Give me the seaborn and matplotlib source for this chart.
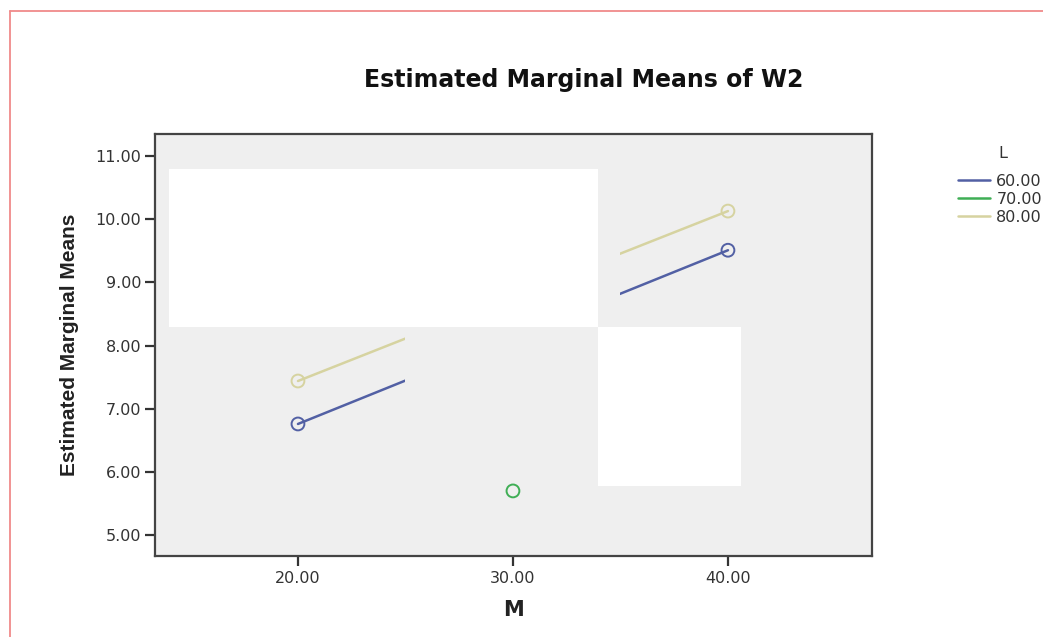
import numpy as np
import pandas as pd
import matplotlib
matplotlib.use("Agg")
import matplotlib.pyplot as plt
import seaborn as sns
from matplotlib.path import Path
from matplotlib.patches import Rectangle
from matplotlib.lines import Line2D

# ---- data (estimated marginal means of W2) ----
levels_L = ["60.00", "70.00", "80.00"]
m_60 = [20.0, 40.0]
w2_60 = [6.76, 9.51]
m_70 = [30.0]
w2_70 = [5.70]
m_80 = [20.0, 40.0]
w2_80 = [7.44, 10.13]

x_ticks = [20, 30, 40]
x_ticklabels = ["20.00", "30.00", "40.00"]
y_ticks = [5, 6, 7, 8, 9, 10, 11]
y_ticklabels = ["5.00", "6.00", "7.00", "8.00", "9.00", "10.00", "11.00"]

title = "Estimated Marginal Means of W2"
x_label = "M"
y_label = "Estimated Marginal Means"
legend_title = "L"

df = pd.DataFrame({
    "M": m_60 + m_70 + m_80,
    "W2": w2_60 + w2_70 + w2_80,
    "L": [levels_L[0]] * len(m_60) + [levels_L[1]] * len(m_70) + [levels_L[2]] * len(m_80),
})

palette = {"60.00": "#5260a4", "70.00": "#3fae55", "80.00": "#d6d3a0"}

sns.set_theme(style="ticks")
plt.rcParams["font.family"] = ["DejaVu Sans"]

W, H = 1043, 637
fig = plt.figure(figsize=(W / 100, H / 100), dpi=100)
fig.patch.set_facecolor("white")

ax_l, ax_r, ax_t, ax_b = 155, 872, 134, 556
ax = fig.add_axes([ax_l / W, 1 - ax_b / H, (ax_r - ax_l) / W, (ax_b - ax_t) / H])
ax.set_facecolor("#efefef")

xlim = (13.35, 46.7)
ylim = (4.67, 11.35)

# white blocks covering parts of the plot area
ax.add_patch(Rectangle((14.0, 8.29), 33.95 - 14.0, 10.79 - 8.29, facecolor="white",
                       edgecolor="none", zorder=0.5))
ax.add_patch(Rectangle((33.95, 5.78), 40.59 - 33.95, 8.29 - 5.78, facecolor="white",
                       edgecolor="none", zorder=0.5))

sns.lineplot(data=df, x="M", y="W2", hue="L", hue_order=levels_L, palette=palette,
             linewidth=1.8, estimator=None, ax=ax, legend=True, zorder=2)

# only the outer parts of each line are visible
verts = [(xlim[0], ylim[0]), (25, ylim[0]), (25, ylim[1]), (xlim[0], ylim[1]), (xlim[0], ylim[0]),
         (35, ylim[0]), (xlim[1], ylim[0]), (xlim[1], ylim[1]), (35, ylim[1]), (35, ylim[0])]
codes = [Path.MOVETO, Path.LINETO, Path.LINETO, Path.LINETO, Path.CLOSEPOLY] * 2
clip = Path(verts, codes)
for ln in ax.lines:
    ln.set_clip_path(clip, ax.transData)

sns.scatterplot(data=df, x="M", y="W2", hue="L", hue_order=levels_L, palette=palette,
                marker="o", s=85, linewidth=1.4, ax=ax, legend=False, zorder=3)
coll = ax.collections[-1]
fc = coll.get_facecolors()
coll.set_edgecolors(fc)
coll.set_facecolors("none")

ax.set_xlim(*xlim)
ax.set_ylim(*ylim)
ax.set_xticks(x_ticks)
ax.set_xticklabels(x_ticklabels)
ax.set_yticks(y_ticks)
ax.set_yticklabels(y_ticklabels)
ax.tick_params(axis="both", direction="out", length=7, width=1.6, color="#333333",
               labelsize=11.5, labelcolor="#333333")
ax.tick_params(axis="y", pad=3)
ax.tick_params(axis="x", pad=4)
for sp in ax.spines.values():
    sp.set_visible(True)
    sp.set_color("#444444")
    sp.set_linewidth(1.6)

ax.set_xlabel(x_label, fontsize=15, fontweight="bold", color="#222222")
ax.xaxis.set_label_coords(0.5, (ax_b - 600) / (ax_b - ax_t))
ax.set_ylabel(y_label, fontsize=15, fontweight="bold", color="#222222",
              family=["Liberation Sans Narrow", "DejaVu Sans Condensed", "Liberation Sans"])
ax.yaxis.set_label_coords((79 - ax_l) / (ax_r - ax_l), 0.5)

fig.text(584 / W, 1 - 80 / H, title, ha="center", va="center", fontsize=17,
         fontweight="bold", color="#111111")

sns.move_legend(ax, loc="upper left", bbox_to_anchor=(958 / W, 1 - 174 / H),
                bbox_transform=fig.transFigure, frameon=False, title=None,
                fontsize=11.5, borderpad=0, borderaxespad=0,
                handlelength=2.0, handletextpad=0.4, labelspacing=0.19)
leg = ax.get_legend()
for t in leg.get_texts():
    t.set_color("#333333")
fig.text(1003 / W, 1 - 154 / H, legend_title, ha="center", va="center", fontsize=11.5,
         color="#333333")

# thin red frame around the picture
fig.add_artist(Line2D([9.5 / W, 9.5 / W], [0, 1 - 11 / H], color="#f08a8a", lw=1.3,
                      transform=fig.transFigure))
fig.add_artist(Line2D([9.5 / W, 1], [1 - 11 / H, 1 - 11 / H], color="#f08a8a", lw=1.3,
                      transform=fig.transFigure))

fig.savefig("out.png", dpi=100, facecolor="white")
